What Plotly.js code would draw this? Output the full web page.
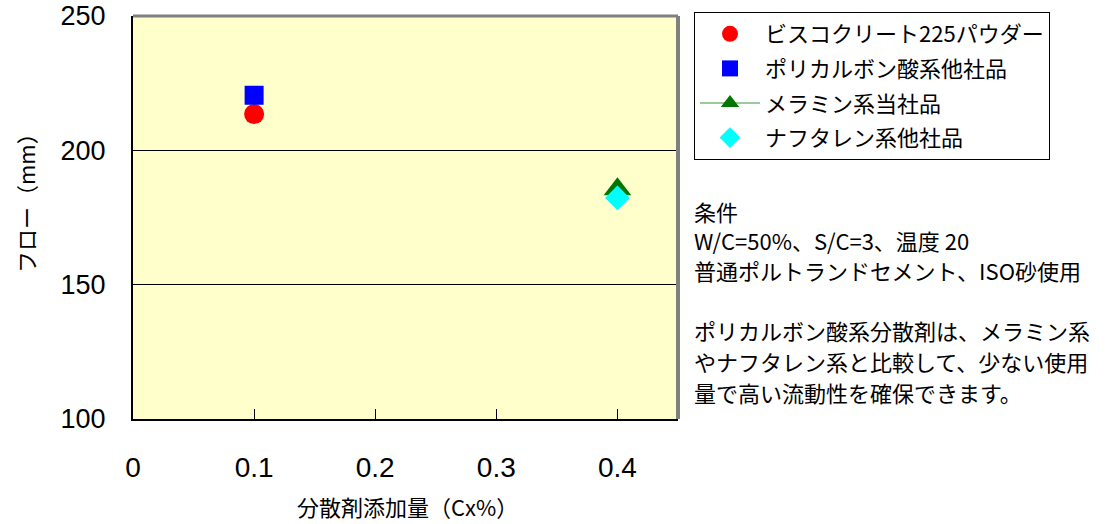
<!DOCTYPE html>
<html>
<head>
<meta charset="utf-8">
<script src="https://cdn.plot.ly/plotly-3.0.1.min.js"></script>
<style>html,body{margin:0;padding:0;background:#fff;}#chart{width:1109px;height:524px;}</style>
</head>
<body>
<div id="chart"></div>
<script>
const seriesNames = ['ビスコクリート225パウダー', 'ポリカルボン酸系他社品', 'メラミン系当社品', 'ナフタレン系他社品'];
const seriesX = [[0.1], [0.1], [0.4], [0.4]];
const seriesY = [[213.5], [220.5], [185.5], [182.3]];
const xTickVals = [0, 0.1, 0.2, 0.3, 0.4];
const xTickText = ['0', '0.1', '0.2', '0.3', '0.4'];
const yTickVals = [100, 150, 200, 250];
const yTickText = ['100', '150', '200', '250'];
const xTitle = '分散剤添加量（Cx%）';
const yTitle = 'フロー（mm）';
const noteLines = [
  '条件',
  'W/C=50%、S/C=3、温度 20',
  '普通ポルトランドセメント、ISO砂使用',
  '',
  'ポリカルボン酸系分散剤は、メラミン系',
  'やナフタレン系と比較して、少ない使用',
  '量で高い流動性を確保できます。'
];

const styles = [
  {mode: 'markers', marker: {symbol: 'circle', color: '#ff0000', size: 20}},
  {mode: 'markers', marker: {symbol: 'square', color: '#0000ff', size: 19}},
  {mode: 'lines+markers', line: {color: '#339933', width: 1}, marker: {symbol: 'triangle-up', color: '#007700', size: 24}},
  {mode: 'markers', marker: {symbol: 'diamond', color: '#00ffff', size: 19}}
];

const data = seriesNames.map((n, i) => Object.assign({
  type: 'scatter', name: n, x: seriesX[i], y: seriesY[i], legendgroup: 'g' + i, cliponaxis: false
}, styles[i]));

const jp = '"Noto Sans CJK JP", "Liberation Sans", sans-serif';
const L = 133, R = 678, T = 16, B = 419, W = 1109, H = 524;
const pw = R - L, ph = B - T;
function px2x(p) { return (p - L) / pw; }
function py2y(p) { return (B - p) / ph; }

const annotations = [];
const noteY = [211, 240, 270, 300, 330, 361, 392];
noteLines.forEach((t, i) => {
  if (!t) return;
  annotations.push({xref: 'paper', yref: 'paper', x: px2x(692), y: py2y(noteY[i]), xanchor: 'left', yanchor: 'middle',
    text: t, showarrow: false, font: {family: jp, size: 22, color: '#000'}});
});
annotations.push({xref: 'paper', yref: 'paper', x: px2x(407), y: py2y(506), xanchor: 'center', yanchor: 'middle',
  text: xTitle, showarrow: false, font: {family: jp, size: 22, color: '#000'}});
annotations.push({xref: 'paper', yref: 'paper', x: px2x(25), y: py2y(198), xanchor: 'center', yanchor: 'middle',
  text: yTitle, textangle: -90, showarrow: false, font: {family: jp, size: 22, color: '#000'}});

const layout = {
  width: W, height: H,
  margin: {l: L, r: W - R, t: T, b: H - B, pad: 0},
  paper_bgcolor: '#ffffff',
  plot_bgcolor: '#ffffcc',
  showlegend: true,
  legend: {
    x: px2x(694), y: py2y(12), xanchor: 'left', yanchor: 'top',
    bgcolor: '#ffffff', bordercolor: '#000000', borderwidth: 1,
    font: {family: jp, size: 22, color: '#000'},
    traceorder: 'grouped', tracegroupgap: 3, itemwidth: 60
  },
  xaxis: {
    range: [0, 0.45], tickvals: xTickVals, ticktext: xTickText,
    ticks: 'inside', ticklen: 10, tickcolor: '#000', tickwidth: 1,
    showgrid: false, zeroline: false,
    showline: true, linecolor: '#000', linewidth: 2,
    tickfont: {family: '"Liberation Sans", Arial, sans-serif', size: 28, color: '#000'},
    ticklabelstandoff: 22, ticklabeloverflow: 'allow'
  },
  yaxis: {
    range: [100, 250], tickvals: yTickVals, ticktext: yTickText,
    ticks: 'inside', ticklen: 10, tickcolor: '#000', tickwidth: 1,
    showgrid: true, gridcolor: '#000', gridwidth: 1, zeroline: false,
    showline: true, linecolor: '#000', linewidth: 2,
    tickfont: {family: '"Liberation Sans", Arial, sans-serif', size: 27, color: '#000'},
    ticklabelstandoff: 20, ticklabeloverflow: 'allow'
  },
  shapes: [
    {type: 'line', xref: 'paper', yref: 'paper', x0: 0, x1: 1, y0: 1, y1: 1, line: {color: '#808080', width: 3}},
    {type: 'line', xref: 'paper', yref: 'paper', x0: 1, x1: 1, y0: 0, y1: 1, line: {color: '#808080', width: 4}}
  ],
  annotations: annotations
};

Plotly.newPlot('chart', data, layout, {staticPlot: true});
</script>
</body>
</html>
